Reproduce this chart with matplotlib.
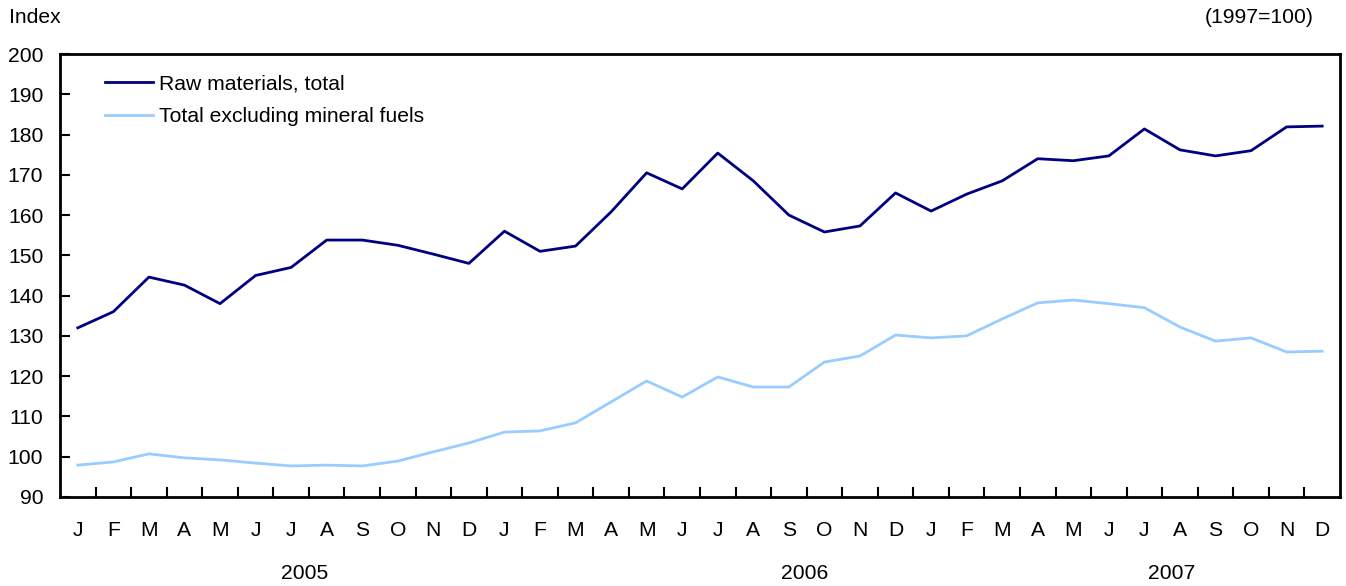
import matplotlib
matplotlib.use("Agg")
import matplotlib.pyplot as plt

months = ["J", "F", "M", "A", "M", "J", "J", "A", "S", "O", "N", "D"] * 3
years = ["2005", "2006", "2007"]
raw_total = [132, 136, 144.6, 142.6, 138, 145, 147, 153.8, 153.8, 152.5, 150.3, 148,
             156, 151, 152.3, 160.8, 170.5, 166.5, 175.4, 168.5, 160, 155.8, 157.3, 165.5,
             161, 165.2, 168.5, 174, 173.5, 174.7, 181.4, 176.2, 174.7, 176, 181.9, 182.1]
excl_fuels = [97.9, 98.7, 100.7, 99.7, 99.2, 98.4, 97.7, 97.9, 97.7, 98.9, 101.2, 103.4,
              106.1, 106.4, 108.4, 113.6, 118.8, 114.8, 119.8, 117.3, 117.3, 123.5, 125, 130.2,
              129.5, 130, 134.2, 138.2, 138.9, 138, 137, 132.2, 128.7, 129.5, 126, 126.2]
yticks = list(range(90, 201, 10))

FS = 15.2
plt.rcParams['font.family'] = ['Liberation Sans', 'DejaVu Sans']
fig = plt.figure(figsize=(13.46, 5.86), dpi=100)
ax = fig.add_axes([0.0446, 0.152, 0.9509, 0.7558])
x = list(range(len(months)))
ax.plot(x, raw_total, color="#000080", lw=2, label="Raw materials, total")
ax.plot(x, excl_fuels, color="#99CCFF", lw=2, label="Total excluding mineral fuels")
ax.set_xlim(-0.5, len(months) - 0.5)
ax.set_ylim(90, 200)
ax.set_yticks(yticks)
ax.set_yticklabels([str(v) for v in yticks], fontsize=FS)
ax.set_xticks([i + 0.5 for i in range(len(months) - 1)])
ax.set_xticklabels([])
ax.set_xticks(x, minor=True)
ax.set_xticklabels(months, minor=True, fontsize=FS)
ax.tick_params(axis='x', which='minor', length=0, pad=17)
ax.tick_params(axis='x', which='major', direction='in', length=7, width=1.5)
ax.tick_params(axis='y', direction='in', length=7, width=1.5, pad=12)
for s in ax.spines.values():
    s.set_linewidth(2)
for xi, yr in zip([6.39, 20.44, 30.76], years):
    ax.text(xi, -0.172, yr, transform=ax.get_xaxis_transform(), ha='center', va='center', fontsize=FS)
fig.text(0.007, 0.97, "Index", ha='left', va='center', fontsize=FS)
fig.text(0.976, 0.97, "(1997=100)", ha='right', va='center', fontsize=FS)
leg = ax.legend(loc='upper left', bbox_to_anchor=(0.035, 0.954), frameon=False, fontsize=FS,
                borderpad=0, borderaxespad=0,
                handlelength=2.3, handletextpad=0.25, labelspacing=0.65)
fig.savefig("out.png", dpi=100)
